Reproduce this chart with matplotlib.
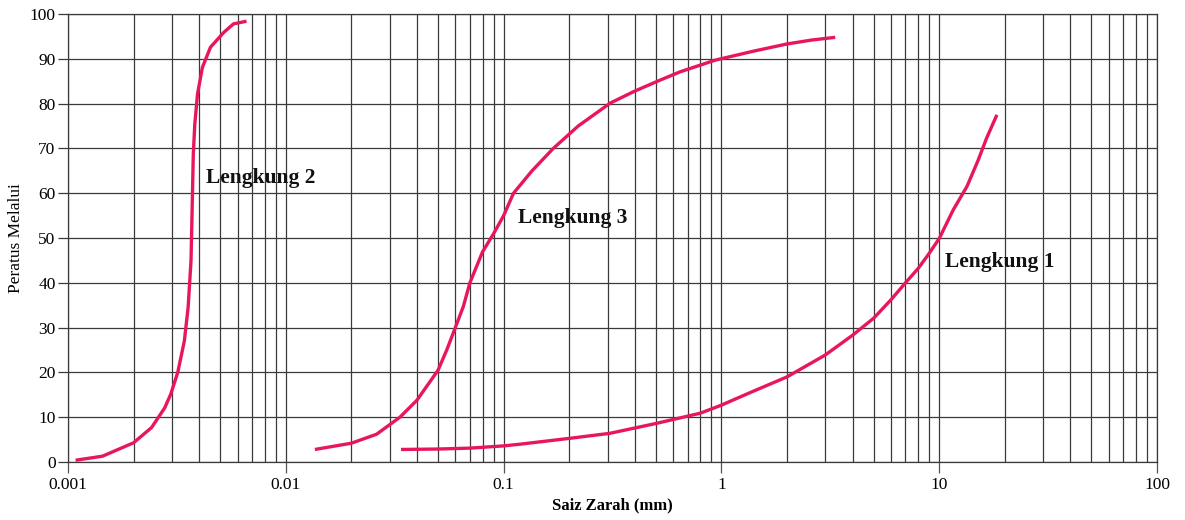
import matplotlib.pyplot as plt
from matplotlib.ticker import LogLocator, NullFormatter, FixedLocator

plt.rcParams['font.family'] = ['Liberation Serif', 'DejaVu Serif']

# Lengkung 1
size_1 = [0.0338, 0.05, 0.07, 0.1, 0.12, 0.202, 0.307, 0.5, 0.8, 1.0, 1.4, 2.0, 3.0, 4.0, 5.0,
          6.0, 7.0, 8.0, 9.0, 10.0, 11.6, 13.4, 15.1, 16.5, 18.4]
pass_1 = [2.8, 2.9, 3.1, 3.6, 4.0, 5.3, 6.4, 8.6, 10.9, 12.7, 15.8, 19.0, 23.9, 28.3, 32.1,
          36.2, 40.0, 43.2, 46.6, 49.9, 56.3, 61.5, 67.4, 72.3, 77.5]

# Lengkung 2
size_2 = [0.001083, 0.00144, 0.002, 0.00242, 0.00278, 0.00296, 0.00319, 0.00342, 0.00356,
          0.00367, 0.00371, 0.00376, 0.00382, 0.00393, 0.00414, 0.00451, 0.00519, 0.00575, 0.0066]
pass_2 = [0.4, 1.3, 4.3, 7.7, 12.1, 15.1, 20.0, 27.0, 34.5,
          44.9, 55.3, 68.7, 75.4, 82.1, 88.1, 92.6, 95.9, 97.8, 98.4]

# Lengkung 3
size_3 = [0.0136, 0.02, 0.0261, 0.0334, 0.04, 0.05, 0.0548, 0.06, 0.0653, 0.07, 0.08, 0.09,
          0.1, 0.111, 0.135, 0.169, 0.22, 0.308, 0.4, 0.526, 0.646, 0.935, 1.4, 1.99, 2.6, 3.33]
pass_3 = [2.8, 4.2, 6.2, 10.0, 13.8, 20.5, 25.0, 30.0, 34.7, 40.0, 46.9, 51.0,
          55.0, 60.0, 65.0, 70.0, 75.0, 80.1, 82.8, 85.3, 87.1, 89.7, 91.7, 93.3, 94.2, 94.8]

labels = ['Lengkung 1', 'Lengkung 2', 'Lengkung 3']
label_pos = [(10.6, 44.6), (0.0043, 63.4), (0.1164, 54.5)]

curve_color = '#E8175D'
grid_color = '#3a3a3a'

fig = plt.figure(figsize=(11.85, 5.2), dpi=100)
ax = fig.add_axes([0.0574, 0.1115, 0.9190, 0.8615])

ax.set_xscale('log')
ax.set_xlim(0.001, 100)
ax.set_ylim(0, 100)

ax.xaxis.set_minor_locator(LogLocator(base=10, subs=range(2, 10), numticks=20))
ax.xaxis.set_minor_formatter(NullFormatter())
ax.set_xticks([0.001, 0.01, 0.1, 1, 10, 100])
ax.set_xticklabels(['0.001', '0.01', '0.1', '1', '10', '100'])
ax.yaxis.set_major_locator(FixedLocator(range(0, 101, 10)))

ax.grid(which='major', axis='both', color=grid_color, linewidth=0.9)
ax.grid(which='minor', axis='x', color=grid_color, linewidth=0.9)

ax.tick_params(axis='x', which='major', length=8, width=0.9, color='#555555',
               labelsize=12.5, pad=3)
ax.tick_params(axis='x', which='minor', length=0)
ax.tick_params(axis='y', which='major', length=7, width=0.9, color=grid_color,
               labelsize=12.5, pad=2)

for s in ax.spines.values():
    s.set_color(grid_color)
    s.set_linewidth(0.9)

for xs, ys in [(size_1, pass_1), (size_2, pass_2), (size_3, pass_3)]:
    ax.plot(xs, ys, color=curve_color, linewidth=2.4, solid_capstyle='butt',
            solid_joinstyle='round', zorder=3)

for text, (lx, ly) in zip(labels, label_pos):
    ax.text(lx, ly, text, fontsize=15.5, fontweight='bold', ha='left', va='center',
            color='#111111', zorder=4)

ax.set_xlabel('Saiz Zarah (mm)', fontsize=12, fontweight='bold', labelpad=3)
ax.set_ylabel('Peratus Melalui', fontsize=12.5, labelpad=4)

fig.savefig('out.png', dpi=100)
